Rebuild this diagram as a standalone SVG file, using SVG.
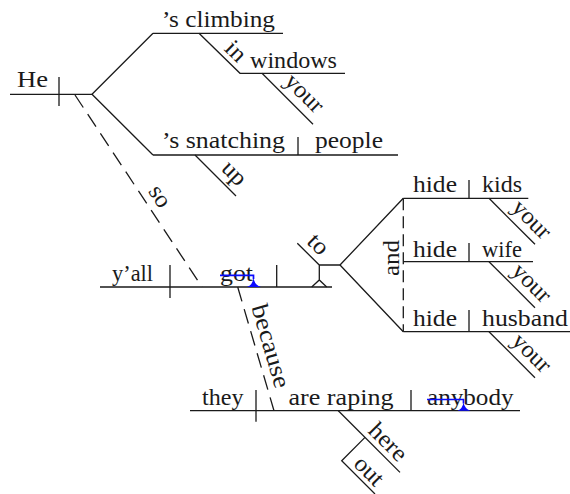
<svg xmlns="http://www.w3.org/2000/svg" width="570" height="494" viewBox="0 0 570 494" font-family="'Liberation Serif', 'DejaVu Serif', serif">
<style>
.t{font-family:'Liberation Serif','DejaVu Serif',serif;font-size:24px;fill:#1a1a1a}
.m{text-anchor:middle}
.l{stroke:#1a1a1a;stroke-width:1.3;fill:none}
.d{stroke-dasharray:15 8}
.d2{stroke-dasharray:12 6}
.bs{stroke:#0a0aff;stroke-width:1.7;fill:none}
.bf{fill:#0a0aff;stroke:none}
</style>
<rect width="570" height="494" fill="#ffffff"/>

<g id="connectors">
  <path class="l" d="M92 94.3 L153 33.3 M92 94.3 L153 155"/>
  <path class="l d" d="M75 95 L202 287"/>
  <text class="t m" transform="translate(158.3,197.5) rotate(56.5)" y="5.4" textLength="22" lengthAdjust="spacingAndGlyphs">so</text>
  <path class="l d" d="M237.7 287 L274 410.7"/>
  <text class="t m" transform="translate(271,346) rotate(73.6)" y="8" textLength="86" lengthAdjust="spacingAndGlyphs">because</text>
  <path class="l" d="M297.3 243.3 L319.3 265 L340 265 M319.3 265 L319.3 280 M311.7 287 L319.3 280 L326.7 287"/>
  <text class="t m" transform="translate(317.5,245) rotate(45)" y="6.5" textLength="20" lengthAdjust="spacingAndGlyphs">to</text>
  <path class="l" d="M340 265 L403.3 198.3 M340 265 L403.3 331.7"/>
  <path class="l d2" d="M403.3 198.3 L403.3 331.7"/>
  <text class="t m" transform="translate(391,258) rotate(-90)" y="8" textLength="36" lengthAdjust="spacingAndGlyphs">and</text>
</g>

<g id="node-he">
  <path class="l" d="M10 94.3 L92 94.3 M59 77 L59 106"/>
  <text class="t" x="17" y="87" textLength="31" lengthAdjust="spacingAndGlyphs">He</text>
</g>

<g id="node-climbing">
  <path class="l" d="M153 33.3 L283 33.3"/>
  <text class="t" x="162" y="27" textLength="113" lengthAdjust="spacingAndGlyphs">’s climbing</text>
</g>

<g id="node-in-windows">
  <path class="l" d="M199 33.3 L240 73.3 L345 73.3"/>
  <text class="t m" transform="translate(235,52) rotate(45)" y="6.5" textLength="20" lengthAdjust="spacingAndGlyphs">in</text>
  <text class="t" x="250" y="68" textLength="87" lengthAdjust="spacingAndGlyphs">windows</text>
</g>

<g id="node-your-windows">
  <path class="l" d="M262 73.3 L313 124.3"/>
  <text class="t m" transform="translate(301,96.5) rotate(45)" y="2.7" textLength="45" lengthAdjust="spacingAndGlyphs">your</text>
</g>

<g id="node-snatching">
  <path class="l" d="M153 155 L398 155 M298 137 L298 155"/>
  <text class="t" x="162" y="148" textLength="123" lengthAdjust="spacingAndGlyphs">’s snatching</text>
  <text class="t" x="315" y="148" textLength="68" lengthAdjust="spacingAndGlyphs">people</text>
</g>

<g id="node-up">
  <path class="l" d="M195 155 L236 196"/>
  <text class="t m" transform="translate(231,176.5) rotate(45)" y="2.7" textLength="25" lengthAdjust="spacingAndGlyphs">up</text>
</g>

<g id="node-yall-got">
  <path class="l" d="M100 287 L332 287 M170 265 L170 298 M276.7 265 L276.7 287"/>
  <text class="t" x="112" y="281" textLength="41" lengthAdjust="spacingAndGlyphs">y’all</text>
  <text class="t" x="220" y="281" textLength="33" lengthAdjust="spacingAndGlyphs">got</text>
  <path class="bs" d="M220 275.3 L253.5 275.3 L253.5 279"/>
  <path class="bf" d="M247 287 Q252.6 285 253.5 278 Q254.6 285 261 287 Z"/>
</g>

<g id="node-hide-kids">
  <path class="l" d="M403.3 198.3 L528.3 198.3 M469 180 L469 198.3"/>
  <text class="t" x="413" y="192" textLength="44" lengthAdjust="spacingAndGlyphs">hide</text>
  <text class="t" x="482" y="192" textLength="40" lengthAdjust="spacingAndGlyphs">kids</text>
  <path class="l" d="M489 198.3 L535 244.3"/>
  <text class="t m" transform="translate(528.3,222.8) rotate(45)" y="2.7" textLength="45" lengthAdjust="spacingAndGlyphs">your</text>
</g>

<g id="node-hide-wife">
  <path class="l" d="M403.3 261.7 L533 261.7 M469 243 L469 261.7"/>
  <text class="t" x="413" y="256.5" textLength="44" lengthAdjust="spacingAndGlyphs">hide</text>
  <text class="t" x="482" y="256.5" textLength="40" lengthAdjust="spacingAndGlyphs">wife</text>
  <path class="l" d="M489 261.7 L535 307.7"/>
  <text class="t m" transform="translate(528.3,286.2) rotate(45)" y="2.7" textLength="45" lengthAdjust="spacingAndGlyphs">your</text>
</g>

<g id="node-hide-husband">
  <path class="l" d="M403.3 331.7 L570 331.7 M469 310 L469 331.7"/>
  <text class="t" x="413" y="325.5" textLength="44" lengthAdjust="spacingAndGlyphs">hide</text>
  <text class="t" x="482" y="325.5" textLength="86" lengthAdjust="spacingAndGlyphs">husband</text>
  <path class="l" d="M489 331.7 L535 377.7"/>
  <text class="t m" transform="translate(528.3,356.2) rotate(45)" y="2.7" textLength="45" lengthAdjust="spacingAndGlyphs">your</text>
</g>

<g id="node-they">
  <path class="l" d="M190 410.7 L520 410.7 M256 390 L256 421.7 M411 390 L411 410.7"/>
  <text class="t" x="202" y="404.5" textLength="41.5" lengthAdjust="spacingAndGlyphs">they</text>
  <text class="t" x="288.5" y="404.5" textLength="105" lengthAdjust="spacingAndGlyphs">are raping</text>
  <text class="t" x="427" y="404.5" textLength="86.5" lengthAdjust="spacingAndGlyphs">anybody</text>
  <path class="bs" d="M427 399.5 L463.5 399.5 L463.5 403.5"/>
  <path class="bf" d="M457.5 410.7 Q462.6 408.7 463.5 402.5 Q464.6 408.7 470.5 410.7 Z"/>
</g>

<g id="node-here-out">
  <path class="l" d="M338.3 410.7 L400 472.4"/>
  <text class="t m" transform="translate(388.3,441.7) rotate(45)" y="8" textLength="44" lengthAdjust="spacingAndGlyphs">here</text>
  <path class="l" d="M365 437.4 L341.7 460.7 L375 494"/>
  <text class="t m" transform="translate(368.3,471.7) rotate(45)" y="6.5" textLength="32" lengthAdjust="spacingAndGlyphs">out</text>
</g>
</svg>
